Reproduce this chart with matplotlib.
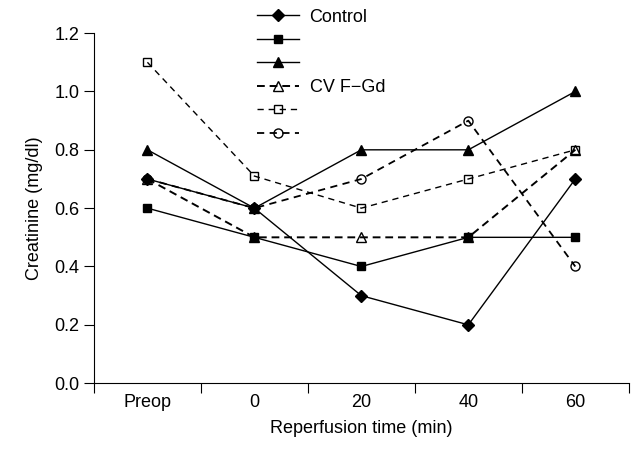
import numpy as np
import matplotlib
matplotlib.use("Agg")
from matplotlib import pyplot as plt

plt.rcParams["font.family"] = ["Liberation Sans", "DejaVu Sans"]

categories = ["Preop", "0", "20", "40", "60"]
control = [0.7, 0.6, 0.3, 0.2, 0.7]
solid_square = [0.6, 0.5, 0.4, 0.5, 0.5]
solid_triangle = [0.8, 0.6, 0.8, 0.8, 1.0]
cvf_gd = [0.7, 0.5, 0.5, 0.5, 0.8]
open_square = [1.1, 0.71, 0.6, 0.7, 0.8]
open_circle = [0.7, 0.6, 0.7, 0.9, 0.4]

fig = plt.figure(figsize=(6.39, 4.54), dpi=100)
ax = fig.add_axes([0.147, 0.156, 0.837, 0.771])

x = np.arange(len(categories))
ax.plot(x, control, "-", color="black", lw=1, marker="D", ms=6, mfc="black", label="Control")
ax.plot(x, solid_square, "-", color="black", lw=1, marker="s", ms=6, mfc="black", label=" ")
ax.plot(x, solid_triangle, "-", color="black", lw=1, marker="^", ms=7.5, mfc="black", label="  ")
ax.plot(x, cvf_gd, "--", color="black", lw=1.4, dashes=(4, 2.5), marker="^", ms=7, mfc="none",
        mew=1, label="CV F\u2212Gd")
ax.plot(x, open_square, "--", color="black", lw=1, dashes=(4.5, 3.5), marker="s", ms=5.5, mfc="none",
        mew=1, label="   ")
ax.plot(x, open_circle, "--", color="black", lw=1.3, dashes=(4, 3), marker="o", ms=6.5, mfc="none",
        mew=1, label="    ")

ax.set_xlim(-0.5, 4.5)
ax.set_ylim(0, 1.2)
ax.set_yticks(np.arange(0, 1.21, 0.2))
ax.set_yticklabels(["%.1f" % v for v in np.arange(0, 1.21, 0.2)])
ax.set_xticks(np.arange(-0.5, 4.6, 1.0))
ax.set_xticklabels([])
ax.set_xticks(x, minor=True)
ax.set_xticklabels(categories, minor=True)
ax.tick_params(axis="x", which="minor", length=0, pad=8, labelsize=13)
ax.tick_params(axis="x", which="major", direction="out", length=7)
ax.tick_params(axis="y", direction="out", length=7, labelsize=13)

ax.spines["top"].set_visible(False)
ax.spines["right"].set_visible(False)

ax.set_xlabel("Reperfusion time (min)", fontsize=13, labelpad=6)
ax.set_ylabel("Creatinine (mg/dl)", fontsize=13, labelpad=8)

fig.legend(loc="upper left", bbox_to_anchor=(241 / 639, 1.017), frameon=False,
           fontsize=13, handlelength=2.3, labelspacing=0.36, handletextpad=0.6)

plt.savefig("out.png", dpi=100)
